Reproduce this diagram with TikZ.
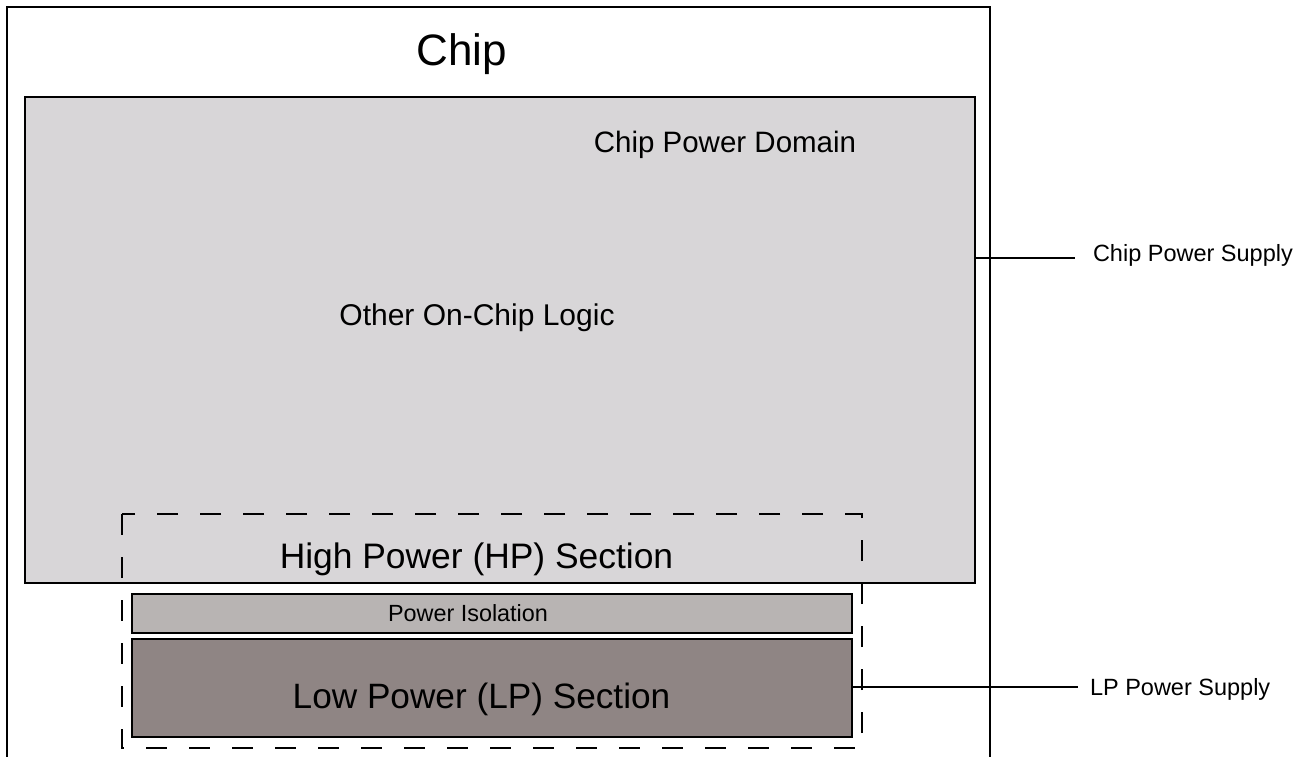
\documentclass[tikz,border=0pt]{standalone}
\usepackage{fontspec}
\setmainfont{Liberation Sans}
\definecolor{domfill}{RGB}{216,214,216}
\definecolor{isofill}{RGB}{184,180,179}
\definecolor{lpfill}{RGB}{143,133,132}
\tikzset{
  box/.style={draw=black, line width=1.5pt, inner sep=0pt, outer sep=0pt, anchor=north west},
  lbl/.style={inner sep=0pt, outer sep=0pt, text=black},
  wire/.style={draw=black, line width=1.5pt},
  hpdash/.style={draw=black, line width=1.5pt, dash pattern=on 21pt off 22pt}
}
\newcommand{\fs}[1]{\fontsize{#1}{#1}\selectfont}
\begin{document}
\begin{tikzpicture}[x=1pt,y=-1pt]
\useasboundingbox (0,0) rectangle (1303,756);
\fill[white] (0,0) rectangle (1303,756);
% chip outline
\coordinate (chipbl) at (7,760);
\coordinate (chiptl) at (7,7);
\coordinate (chiptr) at (990,7);
\coordinate (chipbr) at (990,760);
\draw[line width=2pt] (chipbl) -- (chiptl) -- (chiptr) -- (chipbr);
\node[lbl, anchor=base] (chiplbl) at (461.5,65) {\fs{44}Chip};
% chip power domain
\node[box, fill=domfill, minimum width=950pt, minimum height=486pt] (dom) at (25,97) {};
\node[lbl, anchor=base] (domlbl) at (725,152) {\fs{29.5}Chip Power Domain};
\node[lbl, anchor=base] (other) at (477,325) {\fs{30}Other On-Chip Logic};
% power isolation
\node[box, fill=isofill, minimum width=720pt, minimum height=39pt] (iso) at (132,594) {};
\node[lbl, anchor=base] (isolbl) at (468,621) {\fs{23.4}Power Isolation};
% low power section
\node[box, fill=lpfill, minimum width=720pt, minimum height=98pt] (lp) at (132,639) {};
\node[lbl, anchor=base] (lplbl) at (481.5,708) {\fs{35.2}Low Power (LP) Section};
% high power dashed section
\coordinate (hptl) at (122,514);
\coordinate (hpbr) at (862,748);
\draw[hpdash] (hptl) rectangle (hpbr);
\node[lbl, anchor=base] (hplbl) at (476.5,568) {\fs{35.4}High Power (HP) Section};
% supplies
\node[lbl, anchor=west] (cps) at (1093,255) {\fs{23.5}Chip Power Supply};
\coordinate (cpsend) at (1075,258);
\draw[wire] (cpsend -| dom.east) -- (cpsend);
\node[lbl, anchor=west] (lps) at (1090,689.5) {\fs{23.5}LP Power Supply};
\coordinate (lpsend) at (1078,687);
\draw[wire] (lpsend -| lp.east) -- (lpsend);
\end{tikzpicture}
\end{document}
